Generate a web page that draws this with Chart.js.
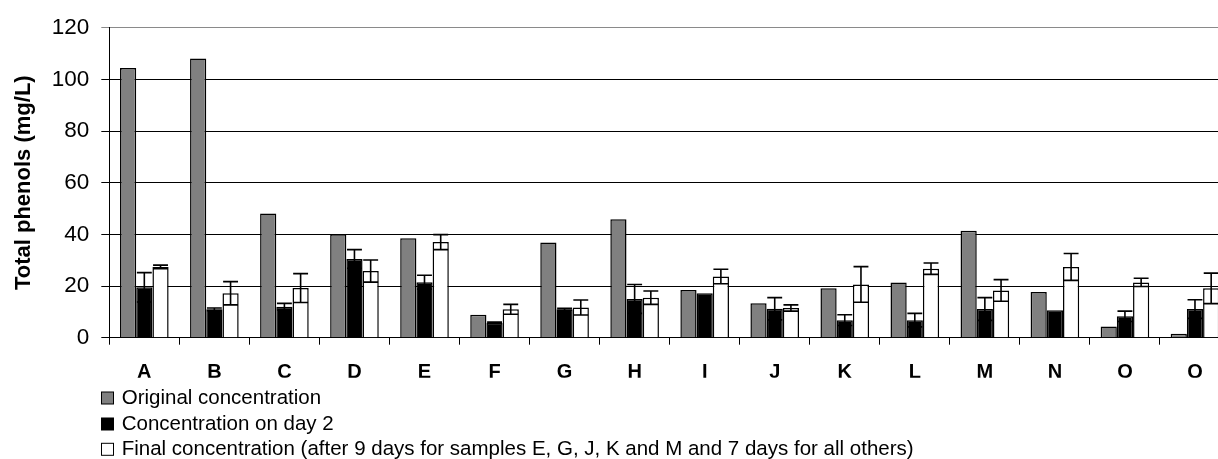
<!DOCTYPE html>
<html>
<head>
<meta charset="utf-8">
<script src="https://cdn.jsdelivr.net/npm/chart.js@4.4.1/dist/chart.umd.min.js"></script>
<style>
  html, body { margin: 0; padding: 0; background: #fff; overflow: hidden; width: 1218px; height: 459px; }
  canvas { display: block; }
</style>
</head>
<body>
<canvas id="c" width="1230" height="459" style="width:1230px;height:459px"></canvas>
<script>
const categories = ['A','B','C','D','E','F','G','H','I','J','K','L','M','N','O','Q'];
const seriesNames = [
  'Original concentration',
  'Concentration on day 2',
  'Final concentration (after 9 days for samples E, G, J, K and M and 7 days for all others)'
];
const originalValues = [104.4, 108.1, 48.1, 40.0, 38.5, 8.9, 36.9, 45.9, 18.5, 13.3, 19.1, 21.4, 41.4, 17.7, 4.3, 1.5];
const day2Values     = [19.5, 11.0, 12.0, 30.5, 21.5, 5.8, 11.0, 15.0, 17.2, 11.2, 6.8, 6.8, 11.1, 10.6, 8.3, 11.1];
const day2Errors     = [5.7, 0.5, 1.3, 3.6, 2.7, 0.3, 0.4, 5.6, 0, 4.3, 2.1, 2.6, 4.4, 0, 2.0, 3.6];
const finalValues    = [27.4, 17.2, 19.2, 25.8, 37.0, 11.0, 11.7, 15.5, 23.7, 11.5, 20.6, 26.7, 18.3, 27.4, 21.4, 19.1];
const finalErrors    = [0.7, 4.5, 5.6, 4.3, 2.9, 1.9, 2.9, 2.6, 2.8, 1.2, 6.9, 2.2, 4.2, 5.2, 1.6, 5.9];
const yTicks = [0, 20, 40, 60, 80, 100, 120];

const FONT = "'Liberation Sans', Arial, sans-serif";

const errorBarPlugin = {
  id: 'errorBars',
  afterDatasetsDraw(chart) {
    const ctx = chart.ctx;
    const yScale = chart.scales.y;
    ctx.save();
    ctx.strokeStyle = '#000';
    ctx.lineWidth = 1.6;
    chart.data.datasets.forEach((ds, di) => {
      if (!ds.errors) return;
      const meta = chart.getDatasetMeta(di);
      meta.data.forEach((bar, i) => {
        const e = ds.errors[i];
        if (!e) return;
        const v = ds.data[i];
        const yTop = yScale.getPixelForValue(v + e);
        const yBot = yScale.getPixelForValue(v - e);
        const half = bar.width * 0.46;
        ctx.beginPath();
        ctx.moveTo(bar.x, yTop); ctx.lineTo(bar.x, yBot);
        ctx.moveTo(bar.x - half, yTop); ctx.lineTo(bar.x + half, yTop);
        ctx.moveTo(bar.x - half, yBot); ctx.lineTo(bar.x + half, yBot);
        ctx.stroke();
      });
    });
    ctx.restore();
  }
};

const legendPlugin = {
  id: 'customLegend',
  afterDraw(chart) {
    const ctx = chart.ctx;
    const baselines = [404, 430, 455.3];
    ctx.save();
    ctx.font = '20.5px ' + FONT;
    ctx.textBaseline = 'alphabetic';
    ctx.textAlign = 'left';
    chart.data.datasets.forEach((ds, i) => {
      const b = baselines[i];
      ctx.fillStyle = ds.backgroundColor;
      ctx.fillRect(101.5, b - 12, 12, 12);
      ctx.strokeStyle = '#000';
      ctx.lineWidth = 1;
      ctx.strokeRect(101.5, b - 12, 12, 12);
      ctx.fillStyle = '#000';
      ctx.fillText(ds.label, 121.7, b);
    });
    ctx.restore();
  }
};

new Chart(document.getElementById('c'), {
  type: 'bar',
  data: {
    labels: categories,
    datasets: [
      { label: seriesNames[0], data: originalValues, backgroundColor: '#808080', borderColor: '#000', borderWidth: 1.5 },
      { label: seriesNames[1], data: day2Values, errors: day2Errors, backgroundColor: '#000000', borderColor: '#000', borderWidth: 1.5 },
      { label: seriesNames[2], data: finalValues, errors: finalErrors, backgroundColor: '#ffffff', borderColor: '#000', borderWidth: 1.5 }
    ]
  },
  options: {
    responsive: false,
    animation: false,
    devicePixelRatio: 1,
    layout: { padding: { left: 0, right: 0, top: 27.7, bottom: 81.3 } },
    plugins: { legend: { display: false }, tooltip: { enabled: false } },
    datasets: { bar: { categoryPercentage: 0.694, barPercentage: 1.0 } },
    scales: {
      x: {
        offset: true,
        grid: { offset: true, drawOnChartArea: false, drawTicks: true, tickLength: 7, color: '#000', lineWidth: 1 },
        border: { display: true, color: '#000', width: 1 },
        ticks: { color: '#000', font: { family: FONT, size: 20, weight: 'bold' }, padding: 16, autoSkip: false, maxRotation: 0 },
        afterFit(scale) { scale.height = 40; }
      },
      y: {
        min: 0, max: 120,
        afterBuildTicks(scale) { scale.ticks = yTicks.map(v => ({ value: v })); },
        grid: {
          color: (c) => (c.tick && c.tick.value === 120) ? '#8a8a8a' : '#000',
          lineWidth: 1, tickLength: 8, drawTicks: true
        },
        border: { display: true, color: '#000', width: 1 },
        ticks: { color: '#000', font: { family: FONT, size: 22.5 }, padding: 12 },
        title: {
          display: true, text: 'Total phenols (mg/L)', color: '#000',
          font: { family: FONT, size: 22, weight: 'bold' },
          padding: { top: 10.8, bottom: 0 }
        },
        afterFit(scale) { scale.width = 109.3; }
      }
    }
  },
  plugins: [errorBarPlugin, legendPlugin]
});
</script>
</body>
</html>
